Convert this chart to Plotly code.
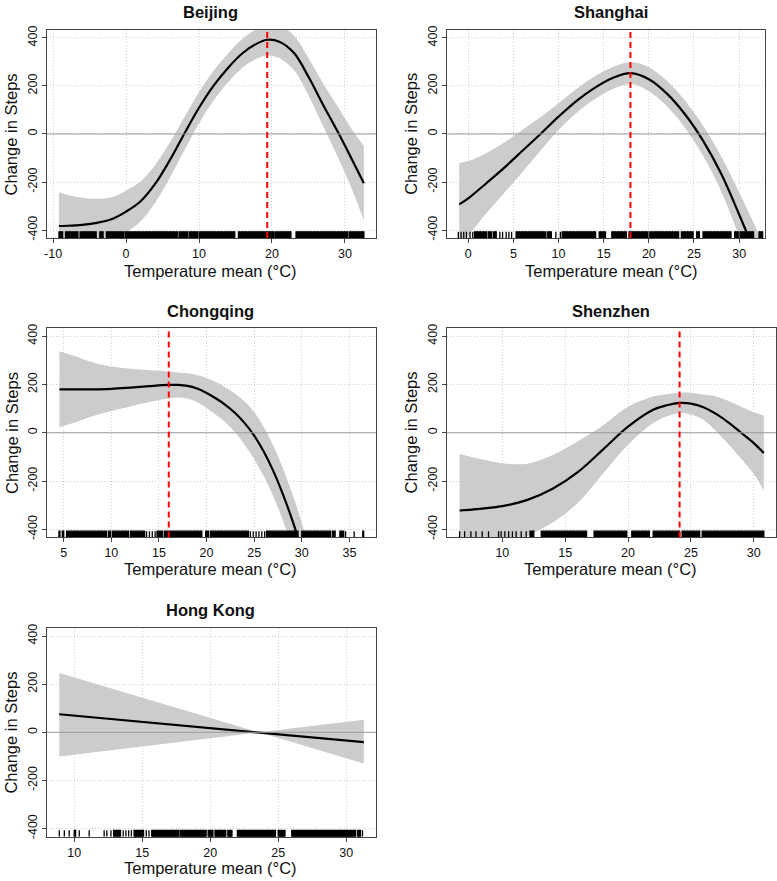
import plotly.graph_objects as go

W, H = 777, 881
FONT = "Liberation Sans, Arial, Helvetica, sans-serif"
YMIN, YMAX = -433.5, 433.5
Y_TICKS = [-400, -200, 0, 200, 400]
X_LABEL = "Temperature mean (°C)"
Y_LABEL = "Change in Steps"

# ---------------- data ----------------
cities = ["Beijing", "Shanghai", "Chongqing", "Shenzhen", "Hong Kong"]

# Beijing
bj_temp  = [-9.2, -8, -6, -4, -2, 0, 2, 4, 6, 8, 10, 12, 14, 16, 18, 19.4, 21, 23, 25, 27, 29, 31, 32.6]
bj_fit   = [-383, -382, -378, -370, -355, -323, -280, -207, -109, 2, 109, 201, 276, 337, 377, 392, 384, 338, 238, 122, 10, -108, -205]
bj_upper = [-243, -254, -266, -270, -263, -236, -197, -129, -36, 71, 174, 263, 336, 397, 439, 457, 452, 410, 316, 211, 114, 17, -50]
bj_lower = [-523, -510, -490, -470, -447, -410, -363, -285, -182, -67, 44, 139, 216, 277, 315, 327, 316, 266, 160, 33, -94, -233, -360]
bj_opt = 19.35
bj_xticks = [-10, 0, 10, 20, 30]
bj_rug = [[-9.2, -8.7], [-8.3, -6.6], [-6.3, -4.1], [-3.6, -3.15], [-2.7, -0.35], [-0.15, 7.1],
          [7.3, 8.45], [8.65, 9.8], [10.0, 14.9], [15.4, 20.3], [20.5, 22.6], [23.3, 30.4], [30.6, 32.6]]

# Shanghai
sh_temp  = [-1.0, 0, 2, 4, 6, 8, 10, 12, 14, 16, 18, 20, 22, 24, 26, 28, 30, 31.6, 32.6]
sh_fit   = [-293, -268, -205, -140, -70, 0, 72, 138, 192, 233, 253, 228, 168, 82, -28, -165, -335, -480, -570]
sh_upper = [-121, -113, -80, -35, 18, 70, 128, 188, 240, 279, 298, 278, 221, 139, 34, -93, -243, -370, -450]
sh_lower = [-465, -423, -330, -245, -158, -70, 16, 88, 144, 187, 208, 178, 115, 25, -90, -237, -427, -590, -690]
sh_opt = 17.96
sh_xticks = [0, 5, 10, 15, 20, 25, 30]
sh_rug = [[-1.1, -1.1], [-0.8, -0.8], [-0.5, -0.5], [-0.2, -0.2], [0.2, 0.2], [0.5, 0.5], [0.7, 2.0],
          [2.2, 2.6], [2.8, 3.1], [3.5, 3.5], [3.8, 3.8], [4.2, 4.2], [4.5, 4.5], [4.8, 4.8],
          [5.3, 8.6], [8.8, 9.2], [9.7, 9.7], [10.2, 10.2], [10.4, 14.1], [14.5, 15.2], [15.9, 17.5],
          [17.8, 19.9], [20.1, 23.3], [23.6, 24.9], [25.3, 25.6], [26.0, 29.1], [29.5, 29.9],
          [30.1, 31.6], [32.2, 32.6]]

# Chongqing
cq_temp  = [4.55, 6, 8, 10, 12, 14, 16, 17, 18, 19, 20, 21, 22, 23, 24, 25, 26, 27, 28, 29, 30, 31]
cq_fit   = [180, 180, 180, 182, 187, 193, 198, 198, 194, 183, 165, 142, 115, 82, 40, -12, -78, -158, -253, -362, -485, -620]
cq_upper = [337, 320, 292, 274, 265, 259, 254, 250, 246, 239, 227, 210, 187, 162, 130, 86, 24, -53, -145, -252, -373, -505]
cq_lower = [23, 40, 68, 90, 109, 127, 142, 146, 142, 127, 103, 74, 43, 2, -50, -110, -180, -263, -361, -472, -597, -735]
cq_opt = 16.03
cq_xticks = [5, 10, 15, 20, 25, 30, 35]
cq_rug = [[4.5, 4.6], [4.85, 5.0], [5.3, 9.5], [9.7, 9.9], [10.1, 11.8], [12.0, 13.5], [13.7, 13.7],
          [14.0, 14.0], [14.3, 14.3], [14.6, 14.6], [14.8, 15.4], [15.6, 19.5], [19.9, 20.2],
          [20.4, 24.4], [24.6, 24.6], [24.9, 24.9], [25.2, 25.2], [25.5, 25.5], [25.8, 25.8],
          [26.1, 26.1], [26.3, 29.6], [30.0, 33.0], [33.2, 33.5], [34.0, 34.4], [34.6, 34.6],
          [35.5, 35.5], [36.4, 36.5]]

# Shenzhen
sz_temp  = [6.6, 8, 10, 12, 14, 16, 18, 20, 22, 23, 24.2, 25, 26, 27, 28, 29, 30, 30.8]
sz_fit   = [-322, -316, -304, -278, -232, -163, -70, 25, 95, 113, 124, 121, 106, 78, 42, 0, -43, -84]
sz_upper = [-88, -106, -126, -128, -92, -35, 30, 108, 150, 160, 166, 166, 158, 150, 132, 108, 85, 71]
sz_lower = [-556, -526, -482, -428, -372, -291, -170, -50, 40, 66, 82, 76, 54, 6, -48, -108, -171, -239]
sz_opt = 24.1
sz_xticks = [10, 15, 20, 25, 30]
sz_rug = [[6.6, 6.6], [7.0, 7.0], [7.5, 7.5], [7.9, 7.9], [8.4, 8.4], [8.9, 8.9], [9.7, 9.7],
          [9.9, 9.9], [10.2, 10.2], [10.5, 10.5], [10.8, 10.8], [11.1, 11.1], [11.5, 11.5],
          [11.9, 11.9], [12.2, 12.5], [13.1, 16.7], [17.3, 19.9], [20.3, 21.7], [22.0, 24.1],
          [24.3, 25.7], [25.9, 30.8]]

# Hong Kong
hk_temp  = [8.9, 23.6, 31.3]
hk_fit   = [75, 0, -41]
hk_upper = [247, 0, 52]
hk_lower = [-100, 0, -130]
hk_opt = None
hk_xticks = [10, 15, 20, 25, 30]
hk_rug = [[8.9, 8.9], [9.27, 9.27], [9.63, 9.63], [10.0, 10.1], [10.37, 10.37], [11.1, 11.1],
          [12.2, 12.2], [12.4, 12.4], [12.7, 12.7], [12.9, 13.4], [13.6, 13.6], [13.8, 13.8],
          [14.0, 14.0], [14.2, 14.2], [14.4, 15.1], [15.3, 15.3], [15.5, 15.5], [15.7, 17.7],
          [17.8, 19.7], [19.85, 20.2], [20.35, 21.15], [21.3, 21.6], [22.0, 24.8], [25.0, 25.5],
          [26.0, 30.7], [30.85, 31.05], [31.2, 31.2]]

series = [
    (bj_temp, bj_fit, bj_upper, bj_lower, bj_opt, bj_xticks, bj_rug, "spline"),
    (sh_temp, sh_fit, sh_upper, sh_lower, sh_opt, sh_xticks, sh_rug, "spline"),
    (cq_temp, cq_fit, cq_upper, cq_lower, cq_opt, cq_xticks, cq_rug, "spline"),
    (sz_temp, sz_fit, sz_upper, sz_lower, sz_opt, sz_xticks, sz_rug, "spline"),
    (hk_temp, hk_fit, hk_upper, hk_lower, hk_opt, hk_xticks, hk_rug, "linear"),
]

# ---------------- layout (pixels) ----------------
panel_layout = [
    dict(box=(44, 375, 26, 236), xrange=(-10.87, 34.27), title=(209, 8.5), xlab=(209, 269), ylab=(8.5, 131)),
    dict(box=(446.7, 766, 26, 236), xrange=(-2.31, 32.87), title=(611.5, 8.5), xlab=(611.5, 269), ylab=(410, 131)),
    dict(box=(44, 375, 326.7, 537.7), xrange=(3.22, 37.8), title=(209, 309), xlab=(209, 570), ylab=(8.5, 432)),
    dict(box=(446.7, 777, 326.7, 537.7), xrange=(5.63, 31.77), title=(611, 309), xlab=(611, 570), ylab=(410, 432)),
    dict(box=(44, 375, 629, 839.3), xrange=(7.98, 32.2), title=(209, 611), xlab=(209, 871), ylab=(8.5, 734)),
]

BAND = "#cccccc"
BOX = "#444444"
GRID = "#cfcfcf"
TXT = "#111111"
RUG_FRAC = 0.03

fig = go.Figure()
shapes = []
annotations = []
layout_axes = {}

for i, (city, s, pl) in enumerate(zip(cities, series, panel_layout)):
    temp, fit, up, lo, opt, xticks, rug, shape = s
    n = i + 1
    xa = "x" if n == 1 else f"x{n}"
    ya = "y" if n == 1 else f"y{n}"
    x0, x1, y0, y1 = pl["box"]

    # confidence band
    fig.add_trace(go.Scatter(x=temp, y=lo, mode="lines", line=dict(width=0, shape=shape),
                             xaxis=xa, yaxis=ya, showlegend=False, hoverinfo="skip"))
    fig.add_trace(go.Scatter(x=temp, y=up, mode="lines", line=dict(width=0, shape=shape),
                             fill="tonexty", fillcolor=BAND,
                             xaxis=xa, yaxis=ya, showlegend=False, hoverinfo="skip"))
    # fitted curve
    fig.add_trace(go.Scatter(x=temp, y=fit, mode="lines", line=dict(color="black", width=2.2, shape=shape),
                             xaxis=xa, yaxis=ya, showlegend=False))
    # rug
    rb = YMIN
    rt = YMIN + RUG_FRAC * (YMAX - YMIN)
    rx, ry = [], []
    for a, b in rug:
        rx += [a, b, b, a, a, None]
        ry += [rb, rb, rt, rt, rb, None]
    fig.add_trace(go.Scatter(x=rx, y=ry, mode="lines", fill="toself", fillcolor="black",
                             line=dict(color="black", width=1.3),
                             xaxis=xa, yaxis=ya, showlegend=False, hoverinfo="skip"))

    # zero reference line
    shapes.append(dict(type="line", xref=f"{xa} domain", yref=ya, x0=0, x1=1, y0=0, y1=0,
                       line=dict(color="#9a9a9a", width=1), layer="above"))
    # optimum temperature line
    if opt is not None:
        shapes.append(dict(type="line", xref=xa, yref=f"{ya} domain", x0=opt, x1=opt, y0=0, y1=1,
                           line=dict(color="#ff0000", width=2, dash="6px,4px"), layer="above"))

    axis_common = dict(showline=True, mirror=True, linecolor=BOX, linewidth=1,
                       ticks="outside", ticklen=4, tickcolor=BOX, tickwidth=1,
                       showgrid=True, gridcolor=GRID, griddash="1px,2px", gridwidth=1,
                       zeroline=False, tickfont=dict(family=FONT, size=12.5, color=TXT))
    layout_axes["xaxis" if n == 1 else f"xaxis{n}"] = dict(
        domain=[x0 / W, x1 / W], range=list(pl["xrange"]), anchor=ya,
        tickmode="array", tickvals=xticks, ticktext=[str(t) for t in xticks], **axis_common)
    layout_axes["yaxis" if n == 1 else f"yaxis{n}"] = dict(
        domain=[1 - y1 / H, 1 - y0 / H], range=[YMIN, YMAX], anchor=xa,
        tickmode="array", tickvals=Y_TICKS, ticktext=[str(t) for t in Y_TICKS],
        tickangle=-90, **axis_common)

    tx, ty = pl["title"]
    annotations.append(dict(text=f"<b>{city}</b>", x=tx / W, y=1 - ty / H, xref="paper", yref="paper",
                            xanchor="center", yanchor="middle", showarrow=False,
                            font=dict(family=FONT, size=16.5, color=TXT)))
    lx, ly = pl["xlab"]
    annotations.append(dict(text=X_LABEL, x=lx / W, y=1 - ly / H, xref="paper", yref="paper",
                            xanchor="center", yanchor="middle", showarrow=False,
                            font=dict(family=FONT, size=16.5, color=TXT)))
    gx, gy = pl["ylab"]
    annotations.append(dict(text=Y_LABEL, x=gx / W, y=1 - gy / H, xref="paper", yref="paper",
                            xanchor="center", yanchor="middle", showarrow=False, textangle=-90,
                            font=dict(family=FONT, size=16.5, color=TXT)))

fig.update_layout(width=W, height=H, margin=dict(l=0, r=0, t=0, b=0),
                  paper_bgcolor="white", plot_bgcolor="white",
                  shapes=shapes, annotations=annotations, showlegend=False,
                  font=dict(family=FONT), **layout_axes)

fig.write_html("out.html", config={"displayModeBar": False},
               post_script="document.body.style.margin='0';document.body.style.padding='0';"
                           "document.body.style.overflow='hidden';")
